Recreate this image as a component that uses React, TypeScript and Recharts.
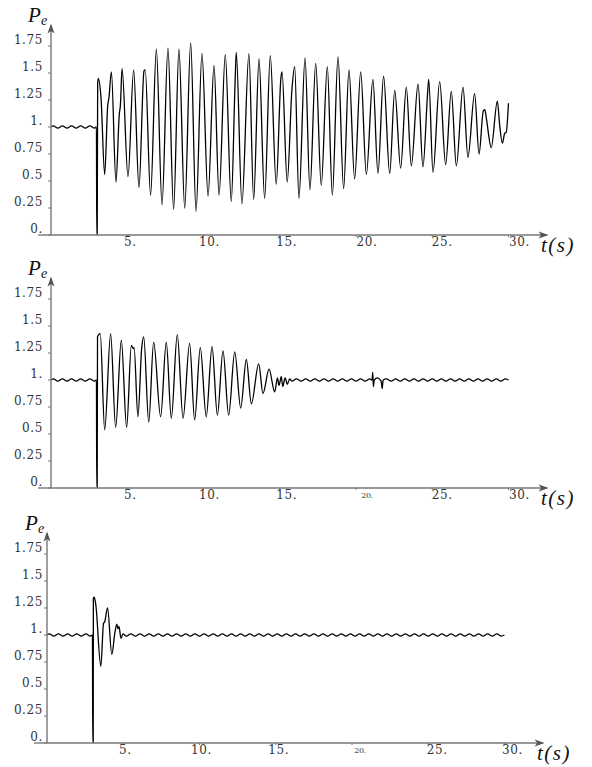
import { Line, LineChart, ReferenceDot, ReferenceLine, XAxis, YAxis } from "recharts";

type Pt = [number, number];

// t (s), Pe
const preFault: Pt[] = [
  [0, 1.0], [0.15, 1.01], [0.45, 0.99], [0.75, 1.01], [1.05, 0.99], [1.35, 1.01],
  [1.65, 0.99], [1.95, 1.01], [2.25, 0.99], [2.55, 1.01], [2.85, 0.99], [2.98, 1.0],
];
const faultDip: Pt[] = [[3.0, 0], [3.03, 0]];

const swingA: Pt[] = [
  [3.06, 1.4], [3.1, 1.45], [3.28, 1.27], [3.52, 0.56], [3.72, 1.2], [3.8, 1.27], [3.96, 1.51],
  [4.26, 0.49], [4.48, 1.12], [4.55, 1.2], [4.66, 1.54], [5.05, 0.54], [5.42, 1.53], [5.77, 0.44],
  [6.1, 1.52], [6.18, 1.53], [6.53, 0.37], [6.91, 1.72], [7.28, 0.28], [7.67, 1.73], [8.04, 0.24],
  [8.39, 1.72], [8.77, 0.25], [9.16, 1.78], [9.51, 0.22], [9.9, 1.68], [10.3, 0.36], [10.69, 1.57],
  [11.02, 0.37], [11.43, 1.67], [11.82, 0.31], [12.08, 1.45], [12.15, 1.69], [12.52, 0.29],
  [12.98, 1.68], [13.29, 0.33], [13.64, 1.63], [14.01, 0.34], [14.38, 1.66], [14.77, 0.47],
  [15.08, 1.46], [15.15, 1.51], [15.49, 0.49], [15.8, 1.35], [15.98, 1.56], [16.26, 0.34],
  [16.66, 1.64], [16.98, 0.42], [17.36, 1.59], [17.72, 0.46], [18.12, 1.56], [18.45, 0.37],
  [18.82, 1.65], [19.19, 0.43], [19.54, 1.53], [19.91, 0.52], [20.31, 1.51], [20.68, 0.56],
  [21.11, 1.44], [21.44, 0.57], [21.81, 1.47], [22.21, 0.57], [22.54, 1.34], [22.93, 0.62],
  [23.3, 1.37], [23.63, 0.64], [24.07, 1.4], [24.39, 0.63], [24.7, 1.32], [24.77, 1.44],
  [25.05, 0.58], [25.49, 1.42], [25.88, 0.65], [26.25, 1.33], [26.58, 0.64], [27.02, 1.37],
  [27.34, 0.72], [27.78, 1.31], [28.07, 0.75], [28.35, 1.15], [28.45, 1.16], [28.55, 1.08],
  [28.87, 0.81], [29.27, 1.24], [29.42, 1.02], [29.6, 0.85], [29.75, 0.94], [29.85, 0.95],
  [30.0, 1.22],
];

const swingB: Pt[] = [
  [3.05, 1.4], [3.23, 1.43], [3.52, 0.54], [3.91, 1.43], [4.24, 0.56], [4.61, 1.37], [4.96, 0.56],
  [5.27, 1.32], [5.4, 1.29], [5.45, 1.3], [5.7, 0.66], [5.95, 1.3], [6.08, 1.4], [6.41, 0.61],
  [6.73, 1.35], [7.19, 0.66], [7.56, 1.35], [7.89, 0.645], [8.28, 1.42], [8.66, 0.645],
  [9.09, 1.34], [9.42, 0.63], [9.79, 1.3], [10.18, 0.66], [10.56, 1.31], [10.91, 0.675],
  [11.28, 1.27], [11.65, 0.675], [12.05, 1.26], [12.44, 0.74], [12.81, 1.19], [13.14, 0.78],
  [13.62, 1.15], [13.9, 0.875], [14.3, 1.1], [14.67, 0.89], [14.85, 1.02], [14.95, 0.95],
  [15.1, 1.03], [15.2, 0.94], [15.35, 1.02], [15.5, 0.96], [15.65, 1.01],
];
const rippleB: Pt[] = [
  [15.8, 0.99], [16.1, 1.01], [16.4, 0.99], [16.7, 1.01], [17.0, 0.99], [17.3, 1.01], [17.6, 0.99],
  [17.9, 1.01], [18.2, 0.99], [18.5, 1.01], [18.8, 0.99], [19.1, 1.01], [19.4, 0.99], [19.7, 1.01],
  [20.0, 0.99], [20.3, 1.01], [20.6, 0.99], [20.9, 1.01], [21.05, 1.0], [21.1, 1.07], [21.14, 0.94],
  [21.2, 1.0], [21.4, 1.02], [21.65, 0.99], [21.72, 0.92], [21.78, 1.0], [22.0, 1.01], [22.3, 0.99],
  [22.6, 1.01], [22.9, 0.99], [23.2, 1.01], [23.5, 0.99], [23.8, 1.01], [24.1, 0.99], [24.4, 1.01],
  [24.7, 0.99], [25.0, 1.01], [25.3, 0.99], [25.6, 1.01], [25.9, 0.99], [26.2, 1.01], [26.5, 0.99],
  [26.8, 1.01], [27.1, 0.99], [27.4, 1.01], [27.7, 0.99], [28.0, 1.01], [28.3, 0.99], [28.6, 1.01],
  [28.9, 0.99], [29.2, 1.01], [29.5, 0.99], [29.8, 1.01], [30.0, 1.0],
];

const swingC: Pt[] = [
  [3.04, 1.34], [3.1, 1.35], [3.2, 1.28], [3.53, 0.71], [3.71, 1.11], [3.78, 1.12], [3.97, 1.25],
  [4.25, 0.82], [4.45, 1.02], [4.58, 1.1], [4.65, 1.06], [4.72, 1.08], [4.85, 0.97], [4.98, 1.01],
];
const rippleC: Pt[] = [
  [5.2, 0.99], [5.5, 1.01], [5.8, 0.99], [6.1, 1.01], [6.4, 0.99], [6.7, 1.01], [7.0, 0.99],
  [7.3, 1.01], [7.6, 0.99], [7.9, 1.01], [8.2, 0.99], [8.5, 1.01], [8.8, 0.99], [9.1, 1.01],
  [9.4, 0.99], [9.7, 1.01], [10.0, 0.99], [10.3, 1.01], [10.6, 0.99], [10.9, 1.01], [11.2, 0.99],
  [11.5, 1.01], [11.8, 0.99], [12.1, 1.01], [12.4, 0.99], [12.7, 1.01], [13.0, 0.99], [13.3, 1.01],
  [13.6, 0.99], [13.9, 1.01], [14.2, 0.99], [14.5, 1.01], [14.8, 0.99], [15.1, 1.01], [15.4, 0.99],
  [15.7, 1.01], [16.0, 0.99], [16.3, 1.01], [16.6, 0.99], [16.9, 1.01], [17.2, 0.99], [17.5, 1.01],
  [17.8, 0.99], [18.1, 1.01], [18.4, 0.99], [18.7, 1.01], [19.0, 0.99], [19.3, 1.01], [19.6, 0.99],
  [19.9, 1.01], [20.2, 0.99], [20.5, 1.01], [20.8, 0.99], [21.1, 1.01], [21.4, 0.99], [21.7, 1.01],
  [22.0, 0.99], [22.3, 1.01], [22.6, 0.99], [22.9, 1.01], [23.2, 0.99], [23.5, 1.01], [23.8, 0.99],
  [24.1, 1.01], [24.4, 0.99], [24.7, 1.01], [25.0, 0.99], [25.3, 1.01], [25.6, 0.99], [25.9, 1.01],
  [26.2, 0.99], [26.5, 1.01], [26.8, 0.99], [27.1, 1.01], [27.4, 0.99], [27.7, 1.01], [28.0, 0.99],
  [28.3, 1.01], [28.6, 0.99], [28.9, 1.01], [29.2, 0.99], [29.5, 1.01], [29.8, 0.99], [30.0, 1.0],
];

const tTicks = [5, 10, 15, 20, 25, 30];
const tTickLabels = ["5.", "10.", "15.", "20.", "25.", "30."];
const pTicks = [0, 0.25, 0.5, 0.75, 1, 1.25, 1.5, 1.75];
const pTickLabels = ["0.", "0.25", "0.5", "0.75", "1.", "1.25", "1.5", "1.75"];

const T_MAX = 32.5;
const P_MAX = 1.94;
const PLOT_W = 495.6;
const AXIS = "#777";
const SERIF = "'DejaVu Serif', 'Liberation Serif', serif";
const tickFont = { fontFamily: SERIF, fontSize: 12, fill: "#333", letterSpacing: 0.6 };

const toRows = (...parts: Pt[][]) => parts.flat().map(([t, p]) => ({ t, p }));

const rowsA = toRows(preFault, faultDip, swingA);
const rowsB = toRows(preFault, faultDip, swingB, rippleB);
const rowsC = toRows(preFault, faultDip, swingC, rippleC);

const RightArrow = (props: any) => (
  <path d={`M${props.cx + 2},${props.cy} l-10,-3.5 l2.5,3.5 l-2.5,3.5 z`} fill="#555" />
);
const UpArrow = (props: any) => (
  <path d={`M${props.cx},${props.cy - 2} l-3.5,10 l3.5,-2.5 l3.5,2.5 z`} fill="#555" />
);

function Panel({ rows, top, height, axisX, marginTop, shifts, tinyTwenty }: {
  rows: { t: number; p: number }[]; top: number; height: number; axisX: number;
  marginTop: number; shifts: number[]; tinyTwenty: boolean;
}) {
  const xTick = (props: any) => {
    const i = tTicks.indexOf(props.payload.value);
    const small = tinyTwenty && tTickLabels[i] === "20.";
    return (
      <text x={props.x + shifts[i]} y={props.y} dy={small ? 8 : 9} textAnchor="middle" {...tickFont}
        fontSize={small ? 8 : 12} letterSpacing={small ? -0.5 : 0.6}>
        {tTickLabels[i]}
      </text>
    );
  };
  const yTick = (props: any) => {
    const i = pTicks.indexOf(props.payload.value);
    return (
      <text x={props.x} y={props.y} dy={-2} textAnchor="end" {...tickFont}>
        {pTickLabels[i]}
      </text>
    );
  };
  return (
    <div style={{ position: "absolute", left: 0, top }}>
      <LineChart width={592} height={height} data={rows}
        margin={{ top: marginTop, right: 592 - axisX - PLOT_W, bottom: 0, left: 0 }}>
        <XAxis type="number" dataKey="t" domain={[0, T_MAX]} ticks={tTicks} interval={0} allowDataOverflow
          height={18} tickSize={2} tickMargin={0} tickLine={{ stroke: AXIS }}
          axisLine={{ stroke: AXIS, strokeWidth: 1.4 }} tick={xTick} />
        <YAxis type="number" domain={[0, P_MAX]} ticks={pTicks} interval={0} allowDataOverflow
          width={axisX} tickSize={3} tickMargin={axisX - 46} tickLine={{ stroke: AXIS }}
          axisLine={{ stroke: AXIS, strokeWidth: 1.4 }} tick={yTick} />
        <ReferenceLine segment={[{ x: -0.85, y: 0 }, { x: 0, y: 0 }]} stroke={AXIS} strokeWidth={1.4} ifOverflow="visible" />
        <ReferenceDot x={T_MAX} y={0} ifOverflow="visible" shape={RightArrow} />
        <ReferenceDot x={0} y={P_MAX} ifOverflow="visible" shape={UpArrow} />
        <Line type="monotone" dataKey="p" stroke="#000" strokeWidth={1.3} dot={false} isAnimationActive={false} />
      </LineChart>
    </div>
  );
}

const labelStyle = { fontFamily: "'Liberation Serif', 'DejaVu Serif', serif", fontStyle: "italic", fill: "#111" } as const;

function AxisNames({ top, pX, tX }: { top: number; pX: number; tX: number }) {
  return (
    <g>
      <text x={pX} y={top + 22} fontSize={21} {...labelStyle}>P</text>
      <text x={pX + 13} y={top + 25} fontSize={14} {...labelStyle}>e</text>
      <text x={tX} y={top + 252} fontSize={21} letterSpacing={1.5} {...labelStyle}>t(s)</text>
    </g>
  );
}

export default function App() {
  return (
    <div style={{ position: "absolute", left: 0, top: 0, width: 592, height: 767, background: "#fff" }}>
      <Panel rows={rowsA} top={0} height={253} axisX={51} marginTop={25.5} shifts={[3, 6, 7, 11, 10, 11]} tinyTwenty={false} />
      <Panel rows={rowsB} top={253} height={253} axisX={51} marginTop={25.5} shifts={[3, 6, 7, 11, 10, 11]} tinyTwenty />
      <Panel rows={rowsC} top={505} height={256} axisX={47} marginTop={28.5} shifts={[2, 2, 3, 8, 9, 8]} tinyTwenty />
      <svg width={592} height={767} style={{ position: "absolute", left: 0, top: 0, pointerEvents: "none" }}>
        <AxisNames top={0} pX={28} tX={541} />
        <AxisNames top={253} pX={28} tX={541} />
        <AxisNames top={508} pX={25} tX={537} />
      </svg>
    </div>
  );
}
